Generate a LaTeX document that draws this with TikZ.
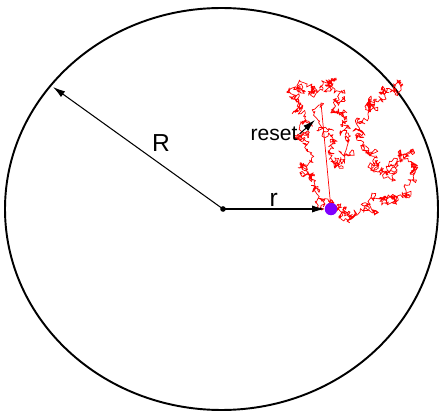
\documentclass[tikz,border=0pt]{standalone}
\usepackage{fontspec}
\setmainfont{Liberation Sans}
\usepackage{tikz}
\usetikzlibrary{arrows.meta, positioning}
\definecolor{walkred}{RGB}{255,0,0}
\definecolor{particle}{RGB}{128,0,255}

% one leg of the walk: Brownian bridge from (\cx,\cy) to (#1,#2)
\newcommand\brownleg[2]{%
  \foreach \k in {30,...,1}{%
    \pgfmathsetmacro\nx{\cx+(#1-\cx)/\k+3.4*rand*(\k>1)}%
    \pgfmathsetmacro\ny{\cy+(#2-\cy)/\k+3.4*rand*(\k>1)}%
    \xdef\cx{\nx}\xdef\cy{\ny}%
    \xdef\walkpath{\walkpath -- (\nx,\ny)}%
  }}
\newcommand\brownwalk[3]{% start x, start y, list of targets
  \xdef\cx{#1}\xdef\cy{#2}\gdef\walkpath{}%
  \foreach \tx/\ty in {#3}{\brownleg{\tx}{\ty}}}

\begin{document}
\begin{tikzpicture}[
        x=0.02cm, y=-0.02cm,
        bound/.style={draw=black, line width=1.1pt},
        radius arrow/.style={-{Latex[length=7pt, width=4pt]}, line width=0.6pt},
        walk/.style={walkred, line width=0.4pt, line join=round},
        label/.style={font=\fontsize{14}{16}\selectfont, inner sep=1pt},
      ]
      \useasboundingbox (0,0) rectangle (440,412);
      \draw[bound] (221.5,209) ellipse [x radius=216.5, y radius=201];

      \coordinate (O) at (223,209);
      \coordinate (rim) at (53,87);
      \node[circle, fill=particle, inner sep=0pt, minimum size=7pt] (tip) at (331,209) {};

      % the walk, reset and second run
      \pgfmathsetseed{4242}
      \brownwalk{331}{209}{322/200, 316/188, 310/176, 302/166, 306/150, 300/138,
        303/124, 296/110, 292/97, 300/88, 312/84, 318/92, 326/80, 336/78, 341/92,
        338/104, 345/112, 341/126, 346/140, 344/156, 336/162, 331/148, 326/132, 321/103}
      \edef\drawit{\noexpand\draw[walk] (331,209) \walkpath -- (tip.center);}\drawit
      \brownwalk{331}{209}{340/216, 350/212, 361/205, 372/193, 384/198, 395/201,
        405/193, 412/180, 416/165, 406/155, 400/150, 394/165, 388/175, 380/162,
        370/156, 362/146, 360/131, 364/118, 368/106, 371/96, 380/92, 390/92, 398/93}
      \edef\drawit{\noexpand\draw[walk] (331,209) \walkpath;}\drawit

      \node[circle, fill=particle, inner sep=0pt, minimum size=7pt] at (tip) {};
      \fill (O) circle[radius=1.6pt];

      \draw[radius arrow] (O) -- node[label, pos=0.365, above=6pt] {R} (rim);
      \draw[radius arrow] (O) -- node[label, above=0pt] {r} (tip);

      \node[label, font=\fontsize{12}{14}\selectfont] (resetlbl) at (274,134) {reset};
      \coordinate (resetpt) at (315,120);
      \draw[radius arrow] (resetlbl.east) -- (resetpt);
    \end{tikzpicture}
\end{document}
